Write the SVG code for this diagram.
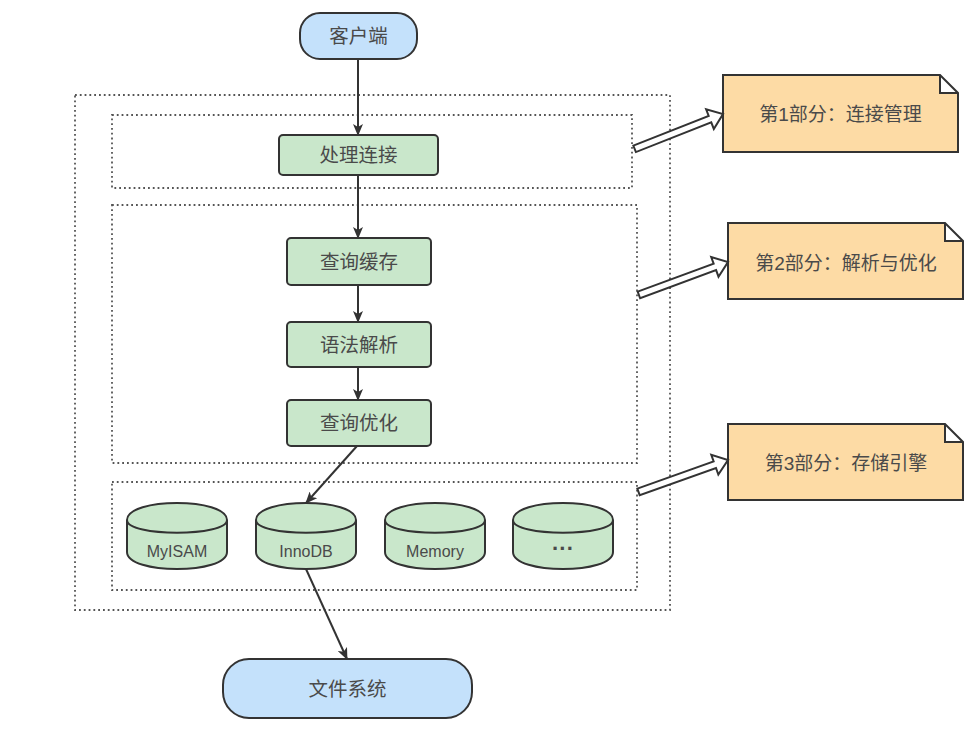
<svg xmlns="http://www.w3.org/2000/svg" xmlns:xlink="http://www.w3.org/1999/xlink" width="980" height="730" viewBox="0 0 980 730">
<style>
text{font-family:"Liberation Sans","Noto Sans CJK SC",sans-serif;fill:#4a4a4a;text-anchor:middle;dominant-baseline:central}
.t{font-size:19.5px}
.n{font-size:19px}
.s{font-size:16px}
.dot{fill:none;stroke:#555;stroke-width:1.8;stroke-dasharray:1.8 3}
.pill{fill:#c4e1fb;stroke:#333;stroke-width:2}
.box{fill:#c9e7cb;stroke:#333;stroke-width:2}
.note{fill:#fddba5;stroke:#333;stroke-width:2}
.fa{fill:#fff;stroke:#333;stroke-width:2;stroke-linejoin:miter}
.con{fill:none;stroke:#333;stroke-width:2;marker-end:url(#ah)}
</style>
<defs>
<marker id="ah" viewBox="0 0 12 10" refX="11" refY="5" markerWidth="12" markerHeight="10" markerUnits="userSpaceOnUse" orient="auto">
<path d="M0,0 L12,5 L0,10 L3,5 z" fill="#333"/>
</marker>
<g id="cyl">
<path class="box" d="M0,17 C0,-5.7 100,-5.7 100,17 L100,49 C100,71.7 0,71.7 0,49 Z"/>
<path class="box" style="fill:none" d="M0,17 C0,34 100,34 100,17"/>
</g>
<polygon id="flex" class="fa" points="-95,-3.5 -14,-3.5 -14,-10.5 0,0 -14,10.5 -14,3.5 -95,3.5"/>
</defs>

<g id="containers">
<rect class="dot" x="75" y="95" width="595" height="515"/>
<rect class="dot" x="112" y="115" width="520" height="73"/>
<rect class="dot" x="112" y="205" width="525" height="258"/>
<rect class="dot" x="112" y="482" width="525" height="108"/>
</g>

<g id="client">
<rect class="pill" x="300" y="13" width="117" height="46" rx="20"/>
<text class="t" x="358.5" y="36">客户端</text>
</g>
<g id="conn">
<rect class="box" x="279" y="135" width="159" height="40" rx="4"/>
<text class="t" x="358.5" y="155">处理连接</text>
</g>
<g id="cache">
<rect class="box" x="287" y="238" width="144" height="47" rx="4"/>
<text class="t" x="359" y="261.5">查询缓存</text>
</g>
<g id="parse">
<rect class="box" x="287" y="322" width="144" height="45" rx="4"/>
<text class="t" x="359" y="344.5">语法解析</text>
</g>
<g id="optimize">
<rect class="box" x="287" y="400" width="144" height="46" rx="4"/>
<text class="t" x="359" y="423">查询优化</text>
</g>
<g id="myisam">
<use xlink:href="#cyl" x="127" y="503"/>
<text class="s" x="177" y="551">MyISAM</text>
</g>
<g id="innodb">
<use xlink:href="#cyl" x="256" y="503"/>
<text class="s" x="306" y="551">InnoDB</text>
</g>
<g id="memory">
<use xlink:href="#cyl" x="385" y="503"/>
<text class="s" x="435" y="551">Memory</text>
</g>
<g id="more">
<use xlink:href="#cyl" x="513" y="503"/>
<text x="563" y="548" style="font-size:22px;font-weight:bold">···</text>
</g>
<g id="fs">
<rect class="pill" x="223" y="659" width="249" height="59" rx="26"/>
<text class="t" x="347.5" y="689">文件系统</text>
</g>

<g id="note1">
<path class="note" d="M723,75 H940 L958,93 V152 H723 Z M940,75 V93 H958"/>
<text class="n" x="840.5" y="114">第1部分：连接管理</text>
</g>
<g id="note2">
<path class="note" d="M728,223 H945 L963,241 V299 H728 Z M945,223 V241 H963"/>
<text class="n" x="846" y="263">第2部分：解析与优化</text>
</g>
<g id="note3">
<path class="note" d="M728,424 H945 L963,442 V500 H728 Z M945,424 V442 H963"/>
<text class="n" x="846" y="463">第3部分：存储引擎</text>
</g>

<g id="connectors">
<line class="con" x1="358" y1="59" x2="358" y2="135"/>
<line class="con" x1="358" y1="175" x2="358" y2="238"/>
<line class="con" x1="358" y1="285" x2="358" y2="322"/>
<line class="con" x1="358" y1="367" x2="358" y2="400"/>
<line class="con" x1="357" y1="446" x2="306" y2="503"/>
<line class="con" x1="306" y1="569" x2="347" y2="659"/>
<use xlink:href="#flex" transform="translate(723,114) rotate(-21.5)"/>
<use xlink:href="#flex" transform="translate(728,262) rotate(-20.3)"/>
<use xlink:href="#flex" transform="translate(728,460) rotate(-19.6)"/>
</g>
</svg>
